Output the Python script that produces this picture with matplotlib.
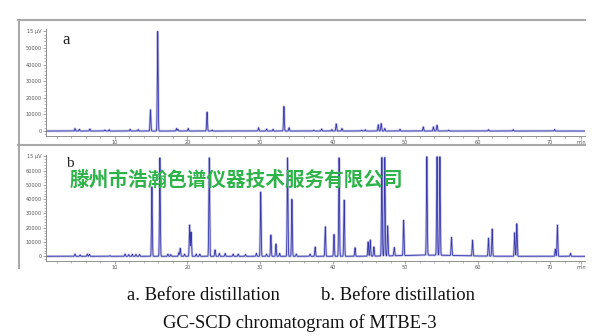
import matplotlib.pyplot as plt
import numpy as np
from matplotlib.lines import Line2D
from matplotlib.ticker import MultipleLocator, FixedLocator, FixedFormatter

# peak retention times (min) and heights (µV), trace a
a_rt = [4.5, 5.1, 6.55, 8.6, 9.2, 12.1, 13.2, 14.9, 15.9, 18.5, 18.7, 20.1,
        22.7, 23.4, 29.8, 30.9, 31.8, 33.3, 34.0, 37.4, 38.5, 39.9, 40.5,
        41.3, 44.0, 44.5, 46.3, 46.7, 47.2, 49.3, 52.5, 53.9, 54.4, 56.0,
        61.5, 64.9, 70.6]
a_h = [1500, 1000, 1200, 600, 800, 1000, 900, 12800, 60000, 1500, 900, 1500,
       11400, 600, 2000, 1200, 1000, 14800, 2000, 500, 1200, 900, 4300,
       1500, 500, 800, 3800, 4500, 1500, 1000, 2500, 2500, 3500, 500,
       800, 800, 900]

# trace b
b_rt = [4.5, 5.2, 6.2, 6.5, 9.3, 11.4, 11.9, 12.4, 12.9, 13.4, 15.1, 16.2,
        17.3, 17.7, 18.8, 19.0, 19.6, 20.3, 20.5, 21.2, 21.7, 23.0, 23.8,
        24.4, 25.2, 26.3, 27.0, 28.0, 29.5, 30.1, 30.9, 31.5, 32.2, 32.7,
        33.8, 34.4, 35.0, 36.9, 37.6, 39.0, 40.2, 40.9, 41.6, 43.1, 44.9,
        45.2, 45.7, 46.8, 47.2, 47.6, 48.5, 49.8, 53.0, 54.4, 54.8, 56.4,
        59.3, 61.5, 62.0, 65.1, 65.4, 70.7, 71.0, 72.8]
b_h = [1500, 1000, 1500, 1300, 500, 1500, 1200, 1400, 1300, 1200, 48600, 69000,
       1500, 1200, 2500, 5600, 1500, 21900, 17000, 1500, 1500, 69000, 4500,
       2000, 2000, 1500, 1500, 1200, 2000, 45000, 1500, 14900, 8600, 2000,
       69000, 40000, 1500, 1500, 6500, 20700, 15300, 69000, 39300, 6000, 10000,
       11400, 6500, 69000, 69000, 21000, 5800, 24700, 69000, 69000, 69000, 12600,
       11000, 12600, 19000, 16500, 22800, 5000, 21900, 2000]

# slow baseline rise late in run b
b_drift = (53.5, 800, 4.0)

t = np.linspace(0.5, 74.8, 40000)


def chromatogram(rt, h, width=0.055):
    y = np.zeros_like(t)
    for r, hh in zip(rt, h):
        y += hh * np.exp(-0.5 * ((t - r) / width) ** 2)
    return y


ya = chromatogram(a_rt, a_h)
yb = chromatogram(b_rt, b_h)
yb += b_drift[1] * np.exp(-0.5 * ((t - b_drift[0]) / b_drift[2]) ** 2)

W, H = 600, 336
fig = plt.figure(figsize=(6, 3.36), dpi=100)
fig.patch.set_facecolor('white')

ax_a = fig.add_axes([46 / W, 1 - 136 / H, 539 / W, 107 / H])
ax_b = fig.add_axes([46 / W, 1 - 261 / H, 539 / W, 106 / H])

line_col = '#3838a8'
axis_col = '#808080'

for ax, y, ylim, ymax_tick in [(ax_a, ya, (-3000, 61500), 60000),
                               (ax_b, yb, (-3300, 71000), 70000)]:
    ax.plot(t, y, color='#a0a0e0', lw=1.8, alpha=0.6)
    ax.plot(t, y, color=line_col, lw=0.6)
    ax.set_xlim(0.5, 74.8)
    ax.set_ylim(*ylim)
    for s in ['top', 'right']:
        ax.spines[s].set_visible(False)
    for s in ['left', 'bottom']:
        ax.spines[s].set_color(axis_col)
        ax.spines[s].set_linewidth(0.6)
    yt = list(range(0, ymax_tick, 10000)) + [ymax_tick]
    ylab = [str(v) for v in yt[:-1]] + ['15 µV']
    ax.yaxis.set_major_locator(FixedLocator(yt))
    ax.yaxis.set_major_formatter(FixedFormatter(ylab))
    ax.yaxis.set_minor_locator(MultipleLocator(2000))
    xt = [10, 20, 30, 40, 50, 60, 70, 74.3]
    ax.xaxis.set_major_locator(FixedLocator(xt))
    ax.xaxis.set_major_formatter(FixedFormatter(['10', '20', '30', '40', '50', '60', '70', 'min']))
    ax.xaxis.set_minor_locator(MultipleLocator(2))
    ax.tick_params(which='major', length=2, width=0.5, colors=axis_col,
                   labelsize=3.6, labelcolor='#555555', pad=1)
    ax.tick_params(which='minor', length=1.2, width=0.4, colors=axis_col)

fig.text(66 / W, 1 - 44 / H, 'a', family='Liberation Serif', fontsize=12,
         color='#222222', ha='center', va='baseline')
fig.text(70 / W, 1 - 167 / H, 'b', family='Liberation Serif', fontsize=11,
         color='#222222', ha='center', va='baseline')

# panel frames
frame = dict(color='#a8a8a8', lw=1.5, transform=fig.transFigure)
fig.add_artist(Line2D([18 / W, 585 / W], [1 - 19.5 / H, 1 - 19.5 / H], **frame))
fig.add_artist(Line2D([18 / W, 585 / W], [1 - 145 / H, 1 - 145 / H], **frame))
fig.add_artist(Line2D([18.5 / W, 18.5 / W], [1 - 19.5 / H, 1 - 268 / H], **frame))

# company watermark
fig.text(70 / W, 1 - 180.5 / H, '滕州市浩瀚色谱仪器技术服务有限公司',
         family=['Noto Sans CJK SC', 'DejaVu Sans'], fontweight='bold',
         fontsize=14.1, color='#2eb34a', ha='left', va='center')

# captions
cap = dict(family='Liberation Serif', fontsize=13.4, color='#111111', va='baseline')
fig.text(127 / W, 1 - 300 / H, 'a. Before distillation', ha='left', **cap)
fig.text(321 / W, 1 - 300 / H, 'b. Before distillation', ha='left', **cap)
fig.text(300 / W, 1 - 328 / H, 'GC-SCD chromatogram of MTBE-3', ha='center', **cap)

fig.savefig('out.png', dpi=100, facecolor='white')
